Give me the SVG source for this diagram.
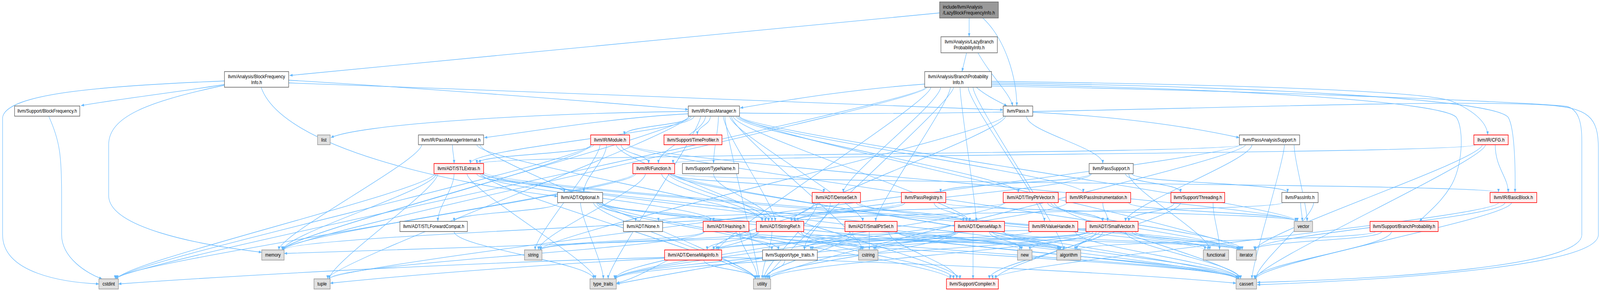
<svg xmlns="http://www.w3.org/2000/svg" width="4933" height="744" viewBox="0 0 4933 744" preserveAspectRatio="none" style="width:100vw;height:100vh;display:block">
<style>
.e path{fill:none;stroke:#63b8ff;stroke-width:1.3;marker-end:url(#a)}
.n rect{stroke-width:1.6}
.w rect{fill:#ffffff;stroke:#666666}
.r rect{fill:#fff0f0;stroke:#ff0000}
.g rect{fill:#e0e0e0;stroke:#999999}
.root rect{fill:#999999;stroke:#666666}
text{font-family:"Liberation Sans",Arial,Helvetica,sans-serif;font-size:13.3px;text-anchor:middle;fill:#000000}
.root text{text-anchor:start}
</style>
<defs>
<marker id="a" viewBox="0 0 10 10" refX="10" refY="5" markerWidth="10" markerHeight="9" markerUnits="userSpaceOnUse" orient="auto"><path d="M0,1 L10,5 L0,9 z" fill="#63b8ff"/></marker>
</defs>
<rect width="4933" height="744" fill="#ffffff"/>
<g id="edges" class="e">
<path d="M2260,297 C2260,337 2990,526 2990,566"/>
<path d="M2140,297 C2140,337 1450,378 1450,418"/>
<path d="M2250,297 C2250,337 2660,526 2660,566"/>
<path d="M2230,297 C2230,337 2390,526 2390,566"/>
<path d="M2270,297 C2270,337 3140,452 3140,492"/>
<path d="M2175,297 C2175,337 2030,378 2030,418"/>
<path d="M2130,297 C2130,321 1925,321 1925,345"/>
<path d="M2275,297 C2275,337 3340,452 3340,492"/>
<path d="M2122,291 C1900,300 1650,335 1493,352"/>
<path d="M2190,297 C2190,321 2150,321 2150,345"/>
<path d="M2215,297 C2215,337 2200,378 2200,418"/>
<path d="M2280,289 C3200,300 4300,250 4760,268 C4900,275 4928,300 4928,380 L4928,600 C4928,680 4300,715 3876,728"/>
<path d="M2255,297 C2255,337 2660,599 2660,639"/>
<path d="M2279,297 C2279,337 3825,599 3825,639"/>
<path d="M2122,285 C1600,290 1100,320 1020,352"/>
<path d="M2125,297 C2125,337 870,599 870,639"/>
<path d="M2124,297 C2124,337 1010,673 1010,713"/>
<path d="M2160,297 C2160,337 1875,673 1875,713"/>
<path d="M2235,297 C2235,337 2340,673 2340,713"/>
<path d="M2280,297 C2280,337 4000,526 4000,566"/>
<path d="M1395,370 C1395,394 1400,394 1400,418"/>
<path d="M1470,370 C1470,410 2360,526 2360,566"/>
<path d="M1300,370 C1300,410 860,599 860,639"/>
<path d="M1480,370 C1480,410 2330,673 2330,713"/>
<path d="M1830,370 C1830,394 1470,394 1470,418"/>
<path d="M1915,370 C1915,394 2000,394 2000,418"/>
<path d="M1870,370 C1870,410 1800,452 1800,492"/>
<path d="M1900,370 C1900,410 2370,526 2370,566"/>
<path d="M1850,370 C1850,410 1650,599 1650,639"/>
<path d="M1823,370 C1823,410 875,599 875,639"/>
<path d="M1822,370 C1822,410 360,673 360,713"/>
<path d="M1935,370 C1935,410 3815,599 3815,639"/>
<path d="M1940,370 C1940,410 3995,526 3995,566"/>
<path d="M2200,444 C2200,484 2380,526 2380,566"/>
<path d="M2070,444 C2070,468 2540,468 2540,492"/>
<path d="M2040,444 C2040,484 2350,526 2350,566"/>
<path d="M2078,444 C2078,468 4620,468 4620,492"/>
<path d="M2060,444 C2060,484 2960,673 2960,713"/>
<path d="M2065,444 C2065,484 3270,599 3270,639"/>
<path d="M2075,444 C2075,484 3815,673 3815,713"/>
<path d="M1955,444 C1955,484 355,673 355,713"/>
<path d="M1960,444 C1960,484 872,599 872,639"/>
<path d="M1990,444 C1990,484 1660,599 1660,639"/>
<path d="M4610,370 C4610,430 4650,452 4650,492"/>
<path d="M4550,370 C4550,394 2075,394 2075,418"/>
<path d="M4580,370 C4580,410 3870,673 3870,713"/>
<path d="M4570,370 C4570,410 3870,599 3870,639"/>
<path d="M4620,518 C4620,558 3060,673 3060,713"/>
<path d="M4660,518 C4660,558 3872,673 3872,713"/>
<path d="M4640,518 C4640,558 3870,599 3870,639"/>
<path d="M4240,592 C4240,615 3320,615 3320,639"/>
<path d="M4290,592 C4290,632 3868,673 3868,713"/>
<path d="M4260,592 C4260,615 3868,615 3868,639"/>
<path d="M3830,370 C3830,394 1480,394 1480,418"/>
<path d="M3860,370 C3860,410 3470,526 3470,566"/>
<path d="M3960,370 C3960,410 3860,673 3860,713"/>
<path d="M3823,370 C3823,410 1015,673 1015,713"/>
<path d="M3840,370 C3840,410 2370,673 2370,713"/>
<path d="M3990,370 C3990,410 4030,526 4030,566"/>
<path d="M3184,287 C3500,300 3700,330 3821,352"/>
<path d="M3165,297 C3165,337 3400,378 3400,418"/>
<path d="M3100,297 C3100,337 2440,526 2440,566"/>
<path d="M3095,297 C3095,337 1665,599 1665,639"/>
<path d="M3490,444 C3490,468 3970,468 3970,492"/>
<path d="M3362,444 C3362,468 2900,468 2900,492"/>
<path d="M3470,444 C3470,468 3640,468 3640,492"/>
<path d="M3365,444 C3365,484 2450,526 2450,566"/>
<path d="M3480,444 C3480,484 3730,599 3730,639"/>
<path d="M3955,518 C3955,542 2460,542 2460,566"/>
<path d="M4050,518 C4050,558 3872,673 3872,713"/>
<path d="M4010,518 C4010,542 4015,542 4015,566"/>
<path d="M2880,518 C2880,542 2980,542 2980,566"/>
<path d="M2790,518 C2790,542 2450,542 2450,566"/>
<path d="M2782,518 C2782,558 875,599 875,639"/>
<path d="M2910,518 C2910,542 4000,542 4000,566"/>
<path d="M3620,518 C3620,542 3480,542 3480,566"/>
<path d="M3640,518 C3640,558 3070,673 3070,713"/>
<path d="M3740,518 C3740,558 3760,599 3760,639"/>
<path d="M3100,518 C3100,542 2030,542 2030,566"/>
<path d="M3230,518 C3230,542 3400,542 3400,566"/>
<path d="M3250,518 C3250,558 3825,673 3825,713"/>
<path d="M3240,518 C3240,558 3830,599 3830,639"/>
<path d="M3096,518 C3096,558 1895,673 1895,713"/>
<path d="M3400,518 C3400,542 3415,542 3415,566"/>
<path d="M3290,518 C3290,558 1897,673 1897,713"/>
<path d="M3480,518 C3480,542 3995,542 3995,566"/>
<path d="M1480,444 C1480,484 2200,526 2200,566"/>
<path d="M1400,444 C1400,484 1350,526 1350,566"/>
<path d="M1470,444 C1470,468 1740,468 1740,492"/>
<path d="M1488,444 C1488,484 3265,599 3265,639"/>
<path d="M1490,444 C1490,484 3815,673 3815,713"/>
<path d="M1340,444 C1340,484 362,673 362,713"/>
<path d="M1489,444 C1489,484 3715,599 3715,639"/>
<path d="M1491,440 C1491,484 3815,599 3815,639"/>
<path d="M1345,444 C1345,484 873,599 873,639"/>
<path d="M1350,444 C1350,484 1015,673 1015,713"/>
<path d="M1440,444 C1440,484 1835,673 1835,713"/>
<path d="M1485,444 C1485,484 2328,673 2328,713"/>
<path d="M1400,592 C1400,632 1830,673 1830,713"/>
<path d="M1850,518 C1850,542 2190,542 2190,566"/>
<path d="M1840,518 C1840,542 1960,542 1960,566"/>
<path d="M1722,518 C1722,542 1400,542 1400,566"/>
<path d="M1855,518 C1855,558 2930,673 2930,713"/>
<path d="M1845,518 C1845,558 2380,599 2380,639"/>
<path d="M1857,518 C1857,558 3812,673 3812,713"/>
<path d="M1856,518 C1856,558 3145,599 3145,639"/>
<path d="M1830,518 C1830,558 2330,673 2330,713"/>
<path d="M1790,518 C1790,558 1860,673 1860,713"/>
<path d="M2270,592 C2270,615 2400,615 2400,639"/>
<path d="M2300,592 C2300,615 3262,615 3262,639"/>
<path d="M2305,592 C2305,632 3815,673 3815,713"/>
<path d="M2295,592 C2295,615 2655,615 2655,639"/>
<path d="M2170,592 C2170,615 1665,615 1665,639"/>
<path d="M2172,592 C2172,632 1016,673 1016,713"/>
<path d="M2280,592 C2280,632 2335,673 2335,713"/>
<path d="M2340,592 C2340,615 2180,615 2180,639"/>
<path d="M2470,592 C2470,632 2940,673 2940,713"/>
<path d="M2476,592 C2476,615 3265,615 3265,639"/>
<path d="M2477,592 C2477,632 3815,673 3815,713"/>
<path d="M2460,592 C2460,615 2660,615 2660,639"/>
<path d="M2334,592 C2334,615 1668,615 1668,639"/>
<path d="M2336,592 C2336,632 1897,673 1897,713"/>
<path d="M2380,592 C2380,632 2350,673 2350,713"/>
<path d="M2740,592 C2740,632 2950,673 2950,713"/>
<path d="M2620,592 C2620,615 2480,615 2480,639"/>
<path d="M2760,592 C2760,615 3268,615 3268,639"/>
<path d="M2764,592 C2764,632 3818,673 3818,713"/>
<path d="M2680,592 C2680,615 2680,615 2680,639"/>
<path d="M2765,592 C2765,615 3818,615 3818,639"/>
<path d="M2630,592 C2630,632 2360,673 2360,713"/>
<path d="M2640,518 C2640,542 2970,542 2970,566"/>
<path d="M2510,518 C2510,558 2200,599 2200,639"/>
<path d="M2560,518 C2560,558 2480,599 2480,639"/>
<path d="M2650,518 C2650,558 3820,599 3820,639"/>
<path d="M2520,518 C2520,558 2355,673 2355,713"/>
<path d="M2946,592 C2946,615 2210,615 2210,639"/>
<path d="M3000,592 C3000,632 3000,673 3000,713"/>
<path d="M2950,592 C2950,615 2500,615 2500,639"/>
<path d="M3060,592 C3060,615 3280,615 3280,639"/>
<path d="M3095,592 C3095,632 3820,673 3820,713"/>
<path d="M2955,592 C2955,615 2695,615 2695,639"/>
<path d="M3090,592 C3090,615 3820,615 3820,639"/>
<path d="M3050,592 C3050,615 3150,615 3150,639"/>
<path d="M2944,592 C2944,632 1898,673 1898,713"/>
<path d="M2948,592 C2948,632 2365,673 2365,713"/>
<path d="M2225,658 C2800,670 3500,700 3811,724"/>
<path d="M2049,658 C1500,670 800,700 365,726"/>
<path d="M2049,660 C1700,675 1300,700 1018,724"/>
<path d="M2060,665 C2000,690 1950,715 1900,724"/>
<path d="M2170,665 C2170,689 2330,689 2330,713"/>
<path d="M2351,660 C2200,680 2000,710 1901,726"/>
<path d="M2420,665 C2420,689 2360,689 2360,713"/>
<path d="M3180,592 C3180,615 2215,615 2215,639"/>
<path d="M3315,592 C3315,632 3818,673 3818,713"/>
<path d="M3380,592 C3380,632 3050,673 3050,713"/>
<path d="M3355,592 C3355,615 2505,615 2505,639"/>
<path d="M3400,592 C3400,615 3315,615 3315,639"/>
<path d="M3470,592 C3470,632 3825,673 3825,713"/>
<path d="M3360,592 C3360,615 2700,615 2700,639"/>
<path d="M3490,592 C3490,615 3725,615 3725,639"/>
<path d="M3500,592 C3500,615 3822,615 3822,639"/>
<path d="M3348,585 C2500,600 1500,630 876,648"/>
<path d="M3390,592 C3390,615 3175,615 3175,639"/>
<path d="M3352,592 C3352,632 1899,673 1899,713"/>
<path d="M3370,592 C3370,632 2372,673 2372,713"/>
<path d="M2960,223 C2960,263 3010,526 3010,566"/>
<path d="M2870,223 C2870,263 2215,599 2215,639"/>
<path d="M2900,223 C2900,263 2600,452 2600,492"/>
<path d="M2930,223 C2930,263 2700,526 2700,566"/>
<path d="M3057,212 C3800,220 4600,250 4650,300 C4672,330 4672,450 4671,492"/>
<path d="M3057,208 C3700,215 4400,230 4480,260 C4560,290 4585,320 4587,345"/>
<path d="M2985,223 C2985,263 3220,526 3220,566"/>
<path d="M3057,216 C3800,225 4450,260 4490,300 C4515,330 4510,430 4470,480 C4440,520 4400,545 4376,566"/>
<path d="M3000,223 C3000,263 3280,599 3280,639"/>
<path d="M3057,220 C3800,230 4700,260 4830,272 C4870,280 4877,320 4877,360 L4877,600 C4877,680 4300,712 3876,722"/>
<path d="M2855,223 C2855,263 358,673 358,713"/>
<path d="M2858,223 C2858,263 874,599 874,639"/>
<path d="M2940,223 C2940,263 2365,673 2365,713"/>
<path d="M2851,215 C2600,230 2400,260 2282,276"/>
<path d="M3010,223 C3040,245 3080,260 3105,271"/>
<path d="M890,205 C1400,230 1900,265 2122,280"/>
<path d="M890,212 C1800,240 2900,270 3093,281"/>
<path d="M692,216 C550,235 350,255 250,270"/>
<path d="M692,207 C300,220 20,240 8,300 L8,600 C8,700 200,722 305,726"/>
<path d="M692,218 C450,260 335,300 335,370 L335,500 C335,580 600,625 807,645"/>
<path d="M805,223 C870,380 1400,470 1719,502"/>
<path d="M150,297 C185,360 190,400 190,500 L190,600 C190,660 270,700 315,713"/>
<path d="M2897,33 L893,193"/>
<path d="M2988,46 L2988,94"/>
<path d="M3030,46 C3100,100 3135,200 3135,271"/>
<path d="M2980,135 L2966,183"/>
<path d="M3015,135 C3060,200 3115,240 3122,271"/>
</g>
<g id="n0" class="n root"><rect x="2897" y="5" width="181" height="41"/><text x="2907" y="22">include/llvm/Analysis</text><text x="2907" y="37">/LazyBlockFrequencyInfo.h</text></g>
<g id="n1" class="n w"><rect x="2901" y="94" width="174" height="41"/><text x="2988" y="111">llvm/Analysis/LazyBranch</text><text x="2988" y="126">ProbabilityInfo.h</text></g>
<g id="n2" class="n w"><rect x="692" y="183" width="198" height="40"/><text x="791" y="200">llvm/Analysis/BlockFrequency</text><text x="791" y="215">Info.h</text></g>
<g id="n3" class="n w"><rect x="2851" y="183" width="206" height="40"/><text x="2954" y="200">llvm/Analysis/BranchProbability</text><text x="2954" y="215">Info.h</text></g>
<g id="n4" class="n w"><rect x="45" y="271" width="201" height="26"/><text x="145.5" y="288.5">llvm/Support/BlockFrequency.h</text></g>
<g id="n5" class="n w"><rect x="2122" y="271" width="158" height="26"/><text x="2201" y="288.5">llvm/IR/PassManager.h</text></g>
<g id="n6" class="n w"><rect x="3093" y="271" width="91" height="26"/><text x="3138.5" y="288.5">llvm/Pass.h</text></g>
<g id="n7" class="n g"><rect x="979" y="345" width="39" height="25"/><text x="998.5" y="362">list</text></g>
<g id="n8" class="n w"><rect x="1290" y="345" width="201" height="25"/><text x="1390.5" y="362">llvm/IR/PassManagerInternal.h</text></g>
<g id="n9" class="n r"><rect x="1821" y="345" width="120" height="25"/><text x="1881" y="362">llvm/IR/Module.h</text></g>
<g id="n10" class="n r"><rect x="2047" y="345" width="179" height="25"/><text x="2136.5" y="362">llvm/Support/TimeProfiler.h</text></g>
<g id="n11" class="n w"><rect x="3821" y="345" width="186" height="25"/><text x="3914" y="362">llvm/PassAnalysisSupport.h</text></g>
<g id="n12" class="n r"><rect x="4544" y="345" width="106" height="25"/><text x="4597" y="362">llvm/IR/CFG.h</text></g>
<g id="n13" class="n r"><rect x="1338" y="418" width="153" height="26"/><text x="1414.5" y="435.5">llvm/ADT/STLExtras.h</text></g>
<g id="n14" class="n r"><rect x="1951" y="418" width="129" height="26"/><text x="2015.5" y="435.5">llvm/IR/Function.h</text></g>
<g id="n15" class="n w"><rect x="2104" y="418" width="173" height="26"/><text x="2190.5" y="435.5">llvm/Support/TypeName.h</text></g>
<g id="n16" class="n w"><rect x="3358" y="418" width="136" height="26"/><text x="3426" y="435.5">llvm/PassSupport.h</text></g>
<g id="n17" class="n w"><rect x="1719" y="492" width="139" height="26"/><text x="1788.5" y="509.5">llvm/ADT/Optional.h</text></g>
<g id="n18" class="n r"><rect x="2504" y="492" width="149" height="26"/><text x="2578.5" y="509.5">llvm/ADT/DenseSet.h</text></g>
<g id="n19" class="n r"><rect x="2779" y="492" width="137" height="26"/><text x="2847.5" y="509.5">llvm/PassRegistry.h</text></g>
<g id="n20" class="n r"><rect x="3093" y="492" width="170" height="26"/><text x="3178" y="509.5">llvm/ADT/TinyPtrVector.h</text></g>
<g id="n21" class="n r"><rect x="3287" y="492" width="199" height="26"/><text x="3386.5" y="509.5">llvm/IR/PassInstrumentation.h</text></g>
<g id="n22" class="n r"><rect x="3610" y="492" width="166" height="26"/><text x="3693" y="509.5">llvm/Support/Threading.h</text></g>
<g id="n23" class="n w"><rect x="3952" y="492" width="112" height="26"/><text x="4008" y="509.5">llvm/PassInfo.h</text></g>
<g id="n24" class="n r"><rect x="4594" y="492" width="144" height="26"/><text x="4666" y="509.5">llvm/IR/BasicBlock.h</text></g>
<g id="n25" class="n w"><rect x="1233" y="566" width="208" height="26"/><text x="1337" y="583.5">llvm/ADT/STLForwardCompat.h</text></g>
<g id="n26" class="n w"><rect x="1922" y="566" width="121" height="26"/><text x="1982.5" y="583.5">llvm/ADT/None.h</text></g>
<g id="n27" class="n r"><rect x="2168" y="566" width="141" height="26"/><text x="2238.5" y="583.5">llvm/ADT/Hashing.h</text></g>
<g id="n28" class="n r"><rect x="2332" y="566" width="146" height="26"/><text x="2405" y="583.5">llvm/ADT/StringRef.h</text></g>
<g id="n29" class="n r"><rect x="2605" y="566" width="161" height="26"/><text x="2685.5" y="583.5">llvm/ADT/SmallPtrSet.h</text></g>
<g id="n30" class="n r"><rect x="2943" y="566" width="154" height="26"/><text x="3020" y="583.5">llvm/ADT/DenseMap.h</text></g>
<g id="n31" class="n r"><rect x="3172" y="566" width="151" height="26"/><text x="3247.5" y="583.5">llvm/IR/ValueHandle.h</text></g>
<g id="n32" class="n r"><rect x="3348" y="566" width="161" height="26"/><text x="3428.5" y="583.5">llvm/ADT/SmallVector.h</text></g>
<g id="n33" class="n g"><rect x="3990" y="566" width="57" height="26"/><text x="4018.5" y="583.5">vector</text></g>
<g id="n34" class="n r"><rect x="4224" y="566" width="210" height="26"/><text x="4329" y="583.5">llvm/Support/BranchProbability.h</text></g>
<g id="n35" class="n g"><rect x="807" y="639" width="69" height="26"/><text x="841.5" y="656.5">memory</text></g>
<g id="n36" class="n g"><rect x="1617" y="639" width="54" height="26"/><text x="1644" y="656.5">string</text></g>
<g id="n37" class="n r"><rect x="2049" y="639" width="176" height="26"/><text x="2137" y="656.5">llvm/ADT/DenseMapInfo.h</text></g>
<g id="n38" class="n w"><rect x="2351" y="639" width="169" height="26"/><text x="2435.5" y="656.5">llvm/Support/type_traits.h</text></g>
<g id="n39" class="n g"><rect x="2647" y="639" width="60" height="26"/><text x="2677" y="656.5">cstring</text></g>
<g id="n40" class="n g"><rect x="3137" y="639" width="45" height="26"/><text x="3159.5" y="656.5">new</text></g>
<g id="n41" class="n g"><rect x="3258" y="639" width="74" height="26"/><text x="3295" y="656.5">algorithm</text></g>
<g id="n42" class="n g"><rect x="3710" y="639" width="78" height="26"/><text x="3749" y="656.5">functional</text></g>
<g id="n43" class="n g"><rect x="3812" y="639" width="61" height="26"/><text x="3842.5" y="656.5">iterator</text></g>
<g id="n44" class="n g"><rect x="305" y="713" width="60" height="26"/><text x="335" y="730.5">cstdint</text></g>
<g id="n45" class="n g"><rect x="968" y="713" width="50" height="26"/><text x="993" y="730.5">tuple</text></g>
<g id="n46" class="n g"><rect x="1819" y="713" width="81" height="26"/><text x="1859.5" y="730.5">type_traits</text></g>
<g id="n47" class="n g"><rect x="2323" y="713" width="53" height="26"/><text x="2349.5" y="730.5">utility</text></g>
<g id="n48" class="n r"><rect x="2918" y="713" width="160" height="26"/><text x="2998" y="730.5">llvm/Support/Compiler.h</text></g>
<g id="n49" class="n g"><rect x="3811" y="713" width="63" height="26"/><text x="3842.5" y="730.5">cassert</text></g>
</svg>
